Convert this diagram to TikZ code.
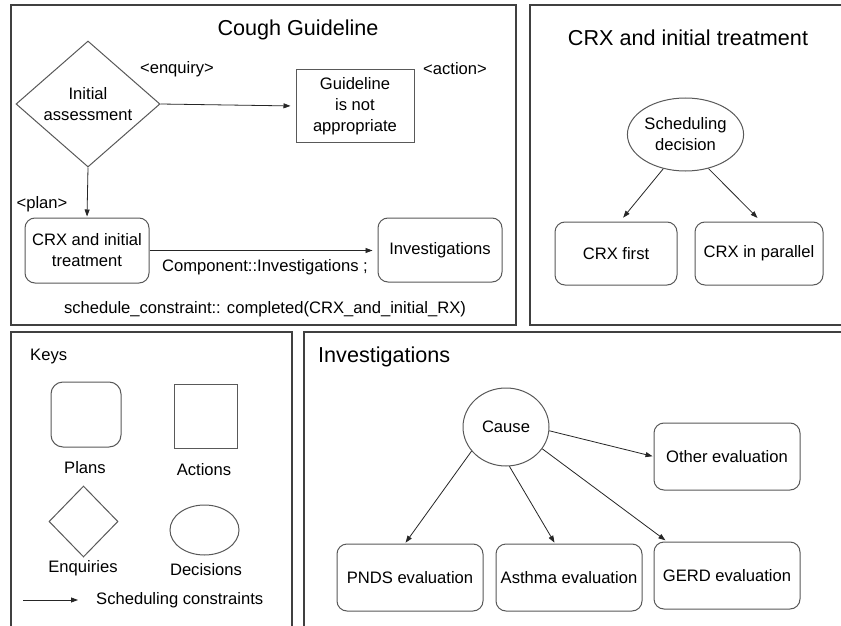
\documentclass[tikz,border=0pt]{standalone}
\usepackage{fontspec}
\setmainfont{Liberation Sans}
\usetikzlibrary{shapes.geometric,arrows.meta,calc}
\begin{document}
\begin{tikzpicture}[x=1pt,y=-1pt,
  every node/.style={font=\fontsize{16.6}{21}\selectfont, inner sep=0pt, align=center, text=black},
  frame/.style={draw=black!75, line width=1.1pt},
  shapeline/.style={draw=black!65, line width=1pt},
  plannode/.style={shapeline, rectangle, rounded corners=10pt},
  actnode/.style={shapeline, rectangle},
  enqnode/.style={shapeline, diamond},
  decnode/.style={shapeline, ellipse},
  paneltitle/.style={font=\fontsize{21.6}{25}\selectfont},
  conn/.style={draw=black!85, line width=0.8pt, -{Triangle[length=7pt,width=5pt]}},
]
\useasboundingbox (0,0) rectangle (841,626);
\fill[white] (0,0) rectangle (841,626);

% ---------- panel frames ----------
\draw[frame] (11,5) rectangle (516,325);
\draw[frame] (841,5) -- (530,5) -- (530,325) -- (841,325);
\draw[frame] (11,626) -- (11,332) -- (292,332) -- (292,626);
\draw[frame] (304,626) -- (304,332) -- (841,332);

% ---------- Cough Guideline ----------
\node[paneltitle] (t1) at (298,30) {Cough Guideline};
\node[enqnode, minimum width=144pt, minimum height=126pt] (ia) at (88,104) {Initial\\assessment};
\node[actnode, minimum width=118pt, minimum height=72pt] (act) at (355,106) {Guideline\\is not\\appropriate};
\node[plannode, minimum width=124pt, minimum height=65pt] (plan1) at (87,250.5) {CRX and initial\\treatment};
\node[plannode, minimum width=124pt, minimum height=64pt] (inv) at (440,250) {Investigations};
\node (lenq) at (177,69) {<enquiry>};
\node (lact) at (455,69) {<action>};
\node (lplan) at (42,204) {<plan>};
\node (lcomp) at (265,267) {Component::Investigations ;};
\node (lsched) at (265,309) {schedule\_constraint:: completed(CRX\_and\_initial\_RX)};

\draw[conn, shorten >=5pt] (ia.east) -- (act.west);
\draw[conn, shorten >=1pt] (ia.south) -- (plan1.north);
\draw[conn, shorten >=5pt] (plan1.east) -- (plan1.east -| inv.west);

% ---------- CRX and initial treatment ----------
\node[paneltitle] (t2) at (688,38) {CRX and initial treatment};
\node[decnode, minimum width=109pt, minimum height=73pt] (sd) at (685.5,134.5) {Scheduling\\decision};
\node[plannode, minimum width=122pt, minimum height=63pt] (crx1) at (616,253.5) {CRX first};
\node[plannode, minimum width=128pt, minimum height=63pt] (crx2) at (759,253.5) {CRX in parallel};

\draw[conn, shorten >=5pt] (sd.237) -- ($(crx1.north)+(4,0)$);
\draw[conn, shorten >=5pt] (sd.304) -- ($(crx2.north)+(2,0)$);

% ---------- Keys ----------
\node[anchor=west] (keys) at (30,357) {Keys};
\node[plannode, rounded corners=12pt, minimum width=70pt, minimum height=65pt] (kplan) at (86,414.5) {};
\node[actnode, minimum width=63pt, minimum height=64pt] (kact) at (205.5,416) {};
\node[enqnode, minimum width=69pt, minimum height=71pt] (kenq) at (83.5,521.5) {};
\node[decnode, minimum width=69pt, minimum height=50pt] (kdec) at (204.5,530) {};
\node (lplans) at (85,468) {Plans};
\node (lactions) at (204,470) {Actions};
\node (lenqs) at (83,568) {Enquiries};
\node (ldecs) at (206,570) {Decisions};
\coordinate (ka) at (23,600);
\coordinate (kb) at (78,600);
\draw[conn] (ka) -- (kb);
\node[anchor=west] (lsc) at (96,600) {Scheduling constraints};

% ---------- Investigations ----------
\node[paneltitle, anchor=west] (t4) at (318,357) {Investigations};
\node[decnode, minimum width=86pt, minimum height=78pt] (cause) at (506,427) {Cause};
\node[plannode, minimum width=146pt, minimum height=67pt] (other) at (727,456.5) {Other evaluation};
\node[plannode, minimum width=146pt, minimum height=67pt] (pnds) at (410,577.5) {PNDS evaluation};
\node[plannode, minimum width=146pt, minimum height=67pt] (asthma) at (569,577.5) {Asthma evaluation};
\node[plannode, minimum width=146pt, minimum height=67pt] (gerd) at (727,575.5) {GERD evaluation};

\draw[conn, shorten >=1pt] (cause.355) -- (other.west);
\draw[conn, shorten >=1pt] (cause.215) -- ($(pnds.north)+(-5,0)$);
\draw[conn, shorten >=1pt] (cause.275) -- ($(asthma.north)+(-14,0)$);
\draw[conn, shorten >=2pt] (cause.329) -- ($(gerd.north)+(-60,0)$);
\end{tikzpicture}
\end{document}
